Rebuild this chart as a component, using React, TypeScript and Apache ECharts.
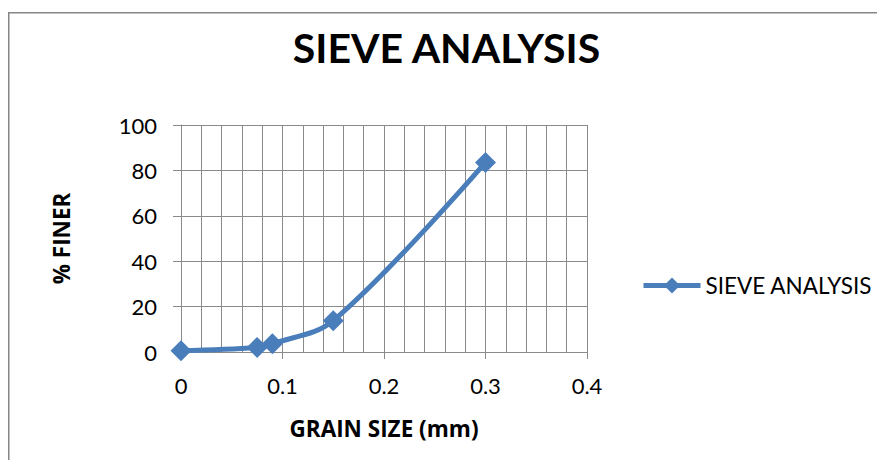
import React, { useEffect, useRef } from "react";
import * as echarts from "echarts";

const TITLE = "SIEVE ANALYSIS";
const SERIES_NAME = "SIEVE ANALYSIS";
const X_NAME = "GRAIN SIZE (mm)";
const Y_NAME = "% FINER";
const grainSize = [0, 0.075, 0.09, 0.15, 0.3];
const percentFiner = [0.5, 2.0, 3.6, 13.8, 83.5];

const FONT = "Lato, 'Liberation Sans', sans-serif";
const BOLD_FONT = "'Open Sans', Lato, sans-serif";
const GRID = "#8a8a8a";
const BLUE = "#4a7ebb";

export default function App() {
  const ref = useRef<HTMLDivElement>(null);
  useEffect(() => {
    if (!ref.current) return;
    const chart = echarts.init(ref.current, undefined, { renderer: "svg" });
    const data = grainSize.map((x, i) => [x, percentFiner[i]]);
    chart.setOption({
      animation: false,
      backgroundColor: "#ffffff",
      title: {
        text: TITLE,
        left: "center",
        top: 14,
        textStyle: { fontFamily: FONT, fontSize: 41, fontWeight: "bold", color: "#000" },
      },
      graphic: [
        {
          type: "polyline",
          shape: { points: [[0.75, 460], [0.75, 4.75], [900, 4.75]] },
          style: { stroke: "#868686", lineWidth: 1.5, fill: "none" },
          silent: true,
        },
      ],
      legend: {
        left: 628,
        top: 261,
        itemWidth: 57,
        itemHeight: 20,
        itemGap: 10,
        lineStyle: { width: 5 },
        textStyle: { fontFamily: FONT, fontSize: 22.5, color: "#000" },
        data: [SERIES_NAME],
      },
      grid: {
        left: 173,
        top: 117,
        width: 406,
        height: 227,
        containLabel: false,
        outerBoundsMode: "none",
      },
      xAxis: {
        type: "value",
        min: 0,
        max: 0.4,
        interval: 0.1,
        name: X_NAME,
        nameLocation: "middle",
        nameGap: 65,
        nameTextStyle: { fontFamily: BOLD_FONT, fontSize: 22.5, fontWeight: "bold", color: "#000" },
        axisLine: { show: true, onZero: false, lineStyle: { color: GRID, width: 1 } },
        axisTick: { show: true, length: 7, lineStyle: { color: GRID } },
        axisLabel: { fontFamily: FONT, fontSize: 22, color: "#000", margin: 22 },
        splitLine: { show: true, lineStyle: { color: GRID, width: 1 } },
        minorTick: { show: false, splitNumber: 5 },
        minorSplitLine: { show: true, lineStyle: { color: GRID, width: 1 } },
      },
      yAxis: {
        type: "value",
        min: 0,
        max: 100,
        interval: 20,
        name: Y_NAME,
        nameLocation: "middle",
        nameGap: 108,
        nameRotate: 90,
        nameTextStyle: { fontFamily: BOLD_FONT, fontSize: 22.5, fontWeight: "bold", color: "#000" },
        axisLine: { show: true, lineStyle: { color: GRID, width: 1 } },
        axisTick: { show: true, length: 8, lineStyle: { color: GRID } },
        axisLabel: { fontFamily: FONT, fontSize: 22, color: "#000", margin: 24 },
        splitLine: { show: true, lineStyle: { color: GRID, width: 1 } },
      },
      series: [
        {
          name: SERIES_NAME,
          type: "line",
          data,
          smooth: 0.35,
          symbol: "diamond",
          symbolSize: 21,
          color: BLUE,
          lineStyle: { color: BLUE, width: 5 },
          itemStyle: { color: BLUE },
          emphasis: { disabled: true },
        },
      ],
    });
    return () => chart.dispose();
  }, []);
  return <div ref={ref} style={{ width: 877, height: 452 }} />;
}
